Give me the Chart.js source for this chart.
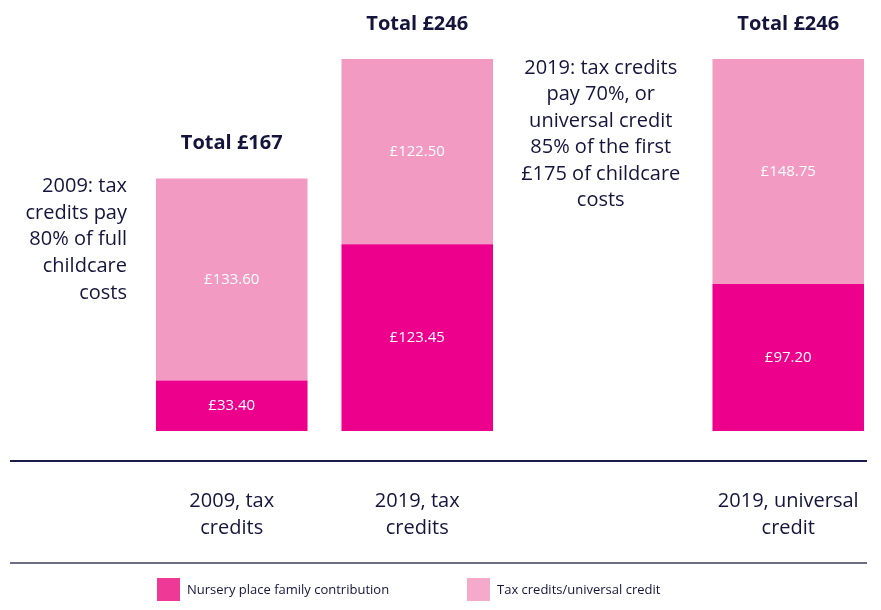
<!DOCTYPE html>
<html>
<head>
<meta charset="utf-8">
<script src="https://cdn.jsdelivr.net/npm/chart.js@4"></script>
<style>
  body { margin: 0; background: #fff; }
  #wrap { width: 881px; height: 610px; }
</style>
</head>
<body>
<div id="wrap"><canvas id="childcareChart" width="881" height="610"></canvas></div>
<script>
// Categories (third slot is left empty for the 2019 note)
const categories = [['2009, tax', 'credits'], ['2019, tax', 'credits'], '', ['2019, universal', 'credit']];
const familyContribution = [33.40, 123.45, null, 97.20];
const creditContribution = [133.60, 122.50, null, 148.75];
const seriesNames = ['Nursery place family contribution', 'Tax credits/universal credit'];
const totalLabels = ['Total £167', 'Total £246', '', 'Total £246'];
const leftNote = ['2009: tax', 'credits pay', '80% of full', 'childcare', 'costs'];
const middleNote = ['2019: tax credits', 'pay 70%, or', 'universal credit', '85% of the first', '£175 of childcare', 'costs'];

const navy = '#14143c';
const darkPink = '#ec008c';
const lightPink = '#f39ac3';
const legendColors = ['#ee3a96', '#f4aacb'];
const baseFont = '"Open Sans", sans-serif';

// Draws the totals, values, notes, rules and legend
const extrasPlugin = {
    id: 'extras',
    afterDatasetsDraw(chart) {
        const ctx = chart.ctx;
        const area = chart.chartArea;
        const x = chart.scales.x;
        const y = chart.scales.y;
        ctx.save();

        // segment values
        ctx.fillStyle = '#ffffff';
        ctx.font = '15px ' + baseFont;
        ctx.textAlign = 'center';
        ctx.textBaseline = 'middle';
        chart.data.datasets.forEach((ds, di) => {
            chart.getDatasetMeta(di).data.forEach((bar, i) => {
                const v = ds.data[i];
                if (v == null) return;
                ctx.fillText('£' + v.toFixed(2), bar.x, (bar.y + bar.base) / 2);
            });
        });

        // totals above bars
        ctx.fillStyle = navy;
        ctx.font = 'bold 20px ' + baseFont;
        categories.forEach((c, i) => {
            if (!totalLabels[i]) return;
            const total = familyContribution[i] + creditContribution[i];
            ctx.fillText(totalLabels[i], x.getPixelForValue(i), y.getPixelForValue(total) - 35);
        });

        // notes
        ctx.font = '20px ' + baseFont;
        ctx.textAlign = 'right';
        leftNote.forEach((line, i) => {
            ctx.fillText(line, area.left - 12, area.top + 133 + i * 26.8);
        });
        ctx.textAlign = 'center';
        middleNote.forEach((line, i) => {
            ctx.fillText(line, x.getPixelForValue(2) - 2, area.top + 15 + i * 26.5);
        });

        // rules
        const ruleEnd = 867;
        ctx.strokeStyle = '#1c1c4a';
        ctx.lineWidth = 2;
        ctx.beginPath();
        ctx.moveTo(10, area.bottom + 30);
        ctx.lineTo(ruleEnd, area.bottom + 30);
        ctx.stroke();
        ctx.strokeStyle = '#3c3c5c';
        ctx.lineWidth = 1.3;
        ctx.beginPath();
        ctx.moveTo(10, area.bottom + 132);
        ctx.lineTo(ruleEnd, area.bottom + 132);
        ctx.stroke();

        // legend
        const legendX = [157, 467];
        const legendY = area.bottom + 147;
        ctx.font = '13px ' + baseFont;
        ctx.textAlign = 'left';
        seriesNames.forEach((name, i) => {
            ctx.fillStyle = legendColors[i];
            ctx.fillRect(legendX[i], legendY, 23, 23);
            ctx.fillStyle = navy;
            ctx.fillText(name, legendX[i] + 30, legendY + 12);
        });
        ctx.restore();
    }
};

new Chart(document.getElementById('childcareChart'), {
    type: 'bar',
    data: {
        labels: categories,
        datasets: [
            { label: seriesNames[0], data: familyContribution, backgroundColor: darkPink },
            { label: seriesNames[1], data: creditContribution, backgroundColor: lightPink }
        ]
    },
    options: {
        responsive: false,
        animation: false,
        layout: { padding: { left: 139, right: -2, top: 53, bottom: 69 } },
        datasets: { bar: { barPercentage: 0.817, categoryPercentage: 1 } },
        plugins: { legend: { display: false }, tooltip: { enabled: false } },
        scales: {
            x: {
                stacked: true,
                grid: { display: false, drawTicks: false },
                border: { display: false },
                ticks: {
                    padding: 57,
                    color: navy,
                    font: { family: baseFont, size: 20, lineHeight: 1.34 },
                    maxRotation: 0,
                    autoSkip: false
                },
                afterFit(scale) {
                    // keep the plot width/height fixed, labels sit below
                    scale.height = 110;
                    scale.paddingLeft = 0;
                    scale.paddingRight = 0;
                }
            },
            y: {
                stacked: true,
                display: false,
                min: 0,
                max: 250
            }
        }
    },
    plugins: [extrasPlugin]
});
</script>
</body>
</html>
